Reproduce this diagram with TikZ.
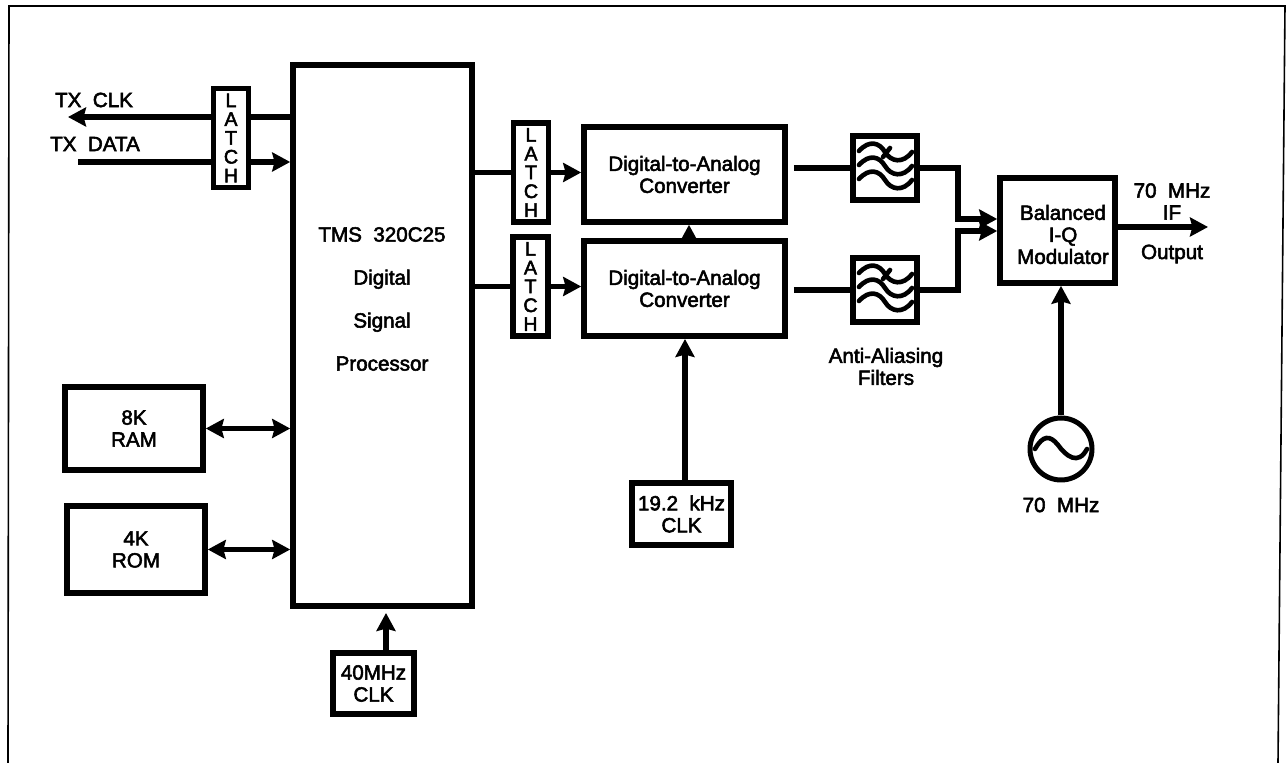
\documentclass[tikz,border=0pt]{standalone}
\usepackage{fontspec}
\usepackage{tikz}
\usetikzlibrary{arrows.meta}
\newfontfamily\labelfont[FakeBold=2.6,WordSpace=2]{Liberation Sans}

\begin{document}
\begin{tikzpicture}[
  x=0.5pt, y=-0.5pt,
  every node/.style={font=\labelfont\fontsize{10.3}{11}\selectfont, align=center, inner sep=0pt},
  block/.style={rectangle, draw=black, line width=2.8pt},
  latch/.style={block, minimum width=17.5pt, minimum height=49.5pt,
                font=\labelfont\fontsize{9.8}{9.4}\selectfont},
  filterbox/.style={block, minimum width=32pt, minimum height=32pt},
  link/.style={line width=2.6pt, draw=black},
  flow/.style={link, -{Stealth[length=9pt,width=9.5pt,inset=1.2pt]}},
  biflow/.style={link, {Stealth[length=9pt,width=9.5pt,inset=1.2pt]}-{Stealth[length=9pt,width=9.5pt,inset=1.2pt]}},
  wave/.style={line width=2.3pt, draw=black, line cap=round}
]
\useasboundingbox (0,0) rectangle (1287,763);
% Page frame, open at the bottom
\draw[line width=0.8pt] (8,763) -- (9,6) -- (1285,6) -- (1278,763);
% Processor and its memories
\node[block, minimum width=89.5pt, minimum height=270.5pt] (dsp) at (382.5,335.5) {};
\node (dsptext) at (382,299) {TMS 320C25\\[10.5pt]Digital\\[10.5pt]Signal\\[10.5pt]Processor};
\node[block, minimum width=69pt, minimum height=41.5pt] (ram) at (134,428.5) {8K\\RAM};
\node[block, minimum width=69pt, minimum height=43.5pt] (rom) at (136,549.5) {4K\\ROM};
\node[block, minimum width=40.5pt, minimum height=30.5pt] (clka) at (373.5,683.5) {40MHz\\CLK};
% Latches
\node[latch] (latcha) at (231,138) {L\\A\\T\\C\\H};
\node[latch] (latchb) at (531,172.5) {L\\A\\T\\C\\H};
\node[latch] (latchc) at (530.5,286.5) {L\\A\\T\\C\\H};
% Converters and clock
\node[block, minimum width=100.5pt, minimum height=47.5pt] (daca) at (684.5,174.5) {Digital-to-Analog\\Converter};
\node[block, minimum width=100.5pt, minimum height=47.5pt] (dacb) at (684.5,288.5) {Digital-to-Analog\\Converter};
\node[block, minimum width=49.5pt, minimum height=31pt] (clkb) at (681.5,514) {19.2 kHz\\CLK};
% Filters
\node[filterbox] (filta) at (885,168) {};
\node[filterbox] (filtb) at (885,290) {};
\node (filtlabel) at (886,366.5) {Anti-Aliasing\\Filters};
\foreach \f in {filta,filtb} {
  \begin{scope}[shift={(\f)}]
    \foreach \dy in {-14,0,14}
      \draw[wave] (-26,\dy-3) .. controls (-16,\dy-14) and (-6,\dy-12) .. (0,\dy-2)
                  .. controls (6,\dy+8) and (18,\dy+10) .. (27,\dy-2);
    \draw[wave] (5,-20) -- (-2,-11);
  \end{scope}
}
% Modulator and oscillator
\node[block, minimum width=57.5pt, minimum height=52.5pt] (mod) at (1057.5,230.5) {};
\node (modtext) at (1063,234.5) {Balanced\\I-Q\\Modulator};
\node[circle, draw=black, line width=2.5pt, minimum size=31pt] (osc) at (1061,449) {};
\draw[wave] (1035,449) .. controls (1043,435) and (1050,435) .. (1058,445)
            .. controls (1066,456) and (1078,466) .. (1087,449);
\node (osclabel) at (1061,505) {70 MHz};
\node (txclabel) at (94,100) {TX CLK};
\node (txdlabel) at (95,144) {TX DATA};
\node (iflabel) at (1172,201.5) {70 MHz\\IF};
\node (outlabel) at (1172,254) {Output};
% Free ends and off-centre entry points
\coordinate (txc) at (68,117);
\coordinate (txd) at (78,162);
\coordinate (ctla) at (386,613);
\coordinate (ctlb) at (685,339);
\coordinate (jcta) at (958,219);
\coordinate (jctb) at (958,231);
\coordinate (ifout) at (1208,227);
% Left side connections
\draw[link] (dsp.west |- txc) -- (latcha.east |- txc);
\draw[flow] (latcha.west |- txc) -- (txc);
\draw[link] (txd) -- (latcha.west |- txd);
\draw[flow] (latcha.east |- txd) -- (dsp.west |- txd);
\draw[biflow] (ram.east) -- (ram.east -| dsp.west);
\draw[biflow] (rom.east) -- (rom.east -| dsp.west);
\draw[flow] (ctla |- clka.north) -- (ctla);
% Processor to latches to converters
\draw[link] (latchb.west -| dsp.east) -- (latchb.west);
\draw[flow] (latchb.east) -- (latchb.east -| daca.west);
\draw[link] (latchc.west -| dsp.east) -- (latchc.west);
\draw[flow] (latchc.east) -- (latchc.east -| dacb.west);
\draw[flow] ([xshift=2.25pt]dacb.north) -- ([xshift=2.25pt]daca.south);
\draw[flow] (ctlb |- clkb.north) -- (ctlb);
% Converters to filters to modulator
\draw[link] ([xshift=3pt]daca.east |- filta.west) -- (filta.west);
\draw[link] ([xshift=3pt]dacb.east |- filtb.west) -- (filtb.west);
\draw[flow] (filta.east) -| (jcta) -- (jcta -| mod.west);
\draw[flow] (filtb.east) -| (jctb) -- (jctb -| mod.west);
\draw[flow] (osc.north) -- (osc.north |- mod.south);
\draw[flow] (ifout -| mod.east) -- (ifout);
\end{tikzpicture}
\end{document}
